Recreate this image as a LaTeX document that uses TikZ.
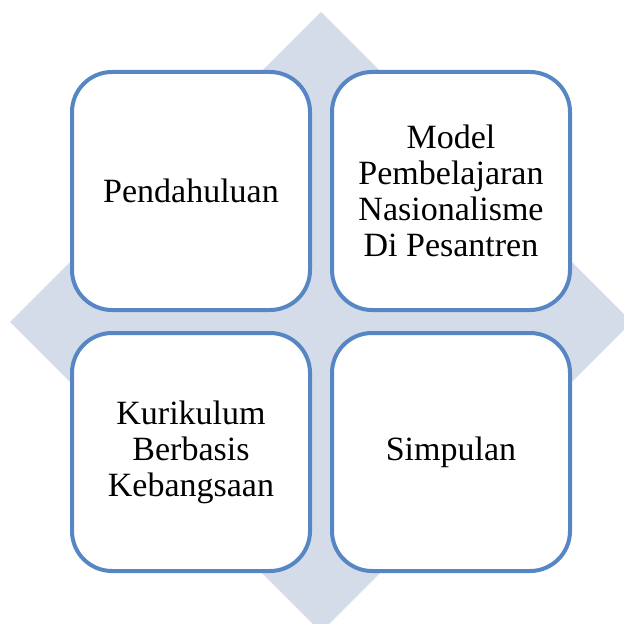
\documentclass[tikz,border=0pt]{standalone}
\usepackage{fontspec}
\setmainfont{Liberation Serif}
\definecolor{gridblue}{RGB}{86,134,196}
\definecolor{gridfill}{RGB}{213,220,233}
\begin{document}
\begin{tikzpicture}[x=0.75pt,y=0.75pt,yscale=-1,xscale=1,
  quadbox/.style={draw=gridblue, line width=3pt, fill=white, rounded corners=30pt,
    minimum width=178.5pt, minimum height=178.5pt, inner sep=0pt, align=center,
    font=\fontsize{25.5}{27}\selectfont}]
\useasboundingbox (0,0) rectangle (624,624);
\clip (0,0) rectangle (624,624);

%Shape: Diamond [background]
\fill [gridfill] (321,12) -- (632,322) -- (321,632) -- (10,322) -- cycle ;

%Shape: Rounded Rect [top left]
\node [quadbox] (pendahuluan) at (191,191) {Pendahuluan};
%Shape: Rounded Rect [top right]
\node [quadbox] (model) at (451,191) {Model\\Pembelajaran\\Nasionalisme\\Di Pesantren};
%Shape: Rounded Rect [bottom left]
\node [quadbox] (kurikulum) at (191,452) {Kurikulum\\Berbasis\\Kebangsaan};
%Shape: Rounded Rect [bottom right]
\node [quadbox] (simpulan) at (451,452) {Simpulan};

\end{tikzpicture}
\end{document}
